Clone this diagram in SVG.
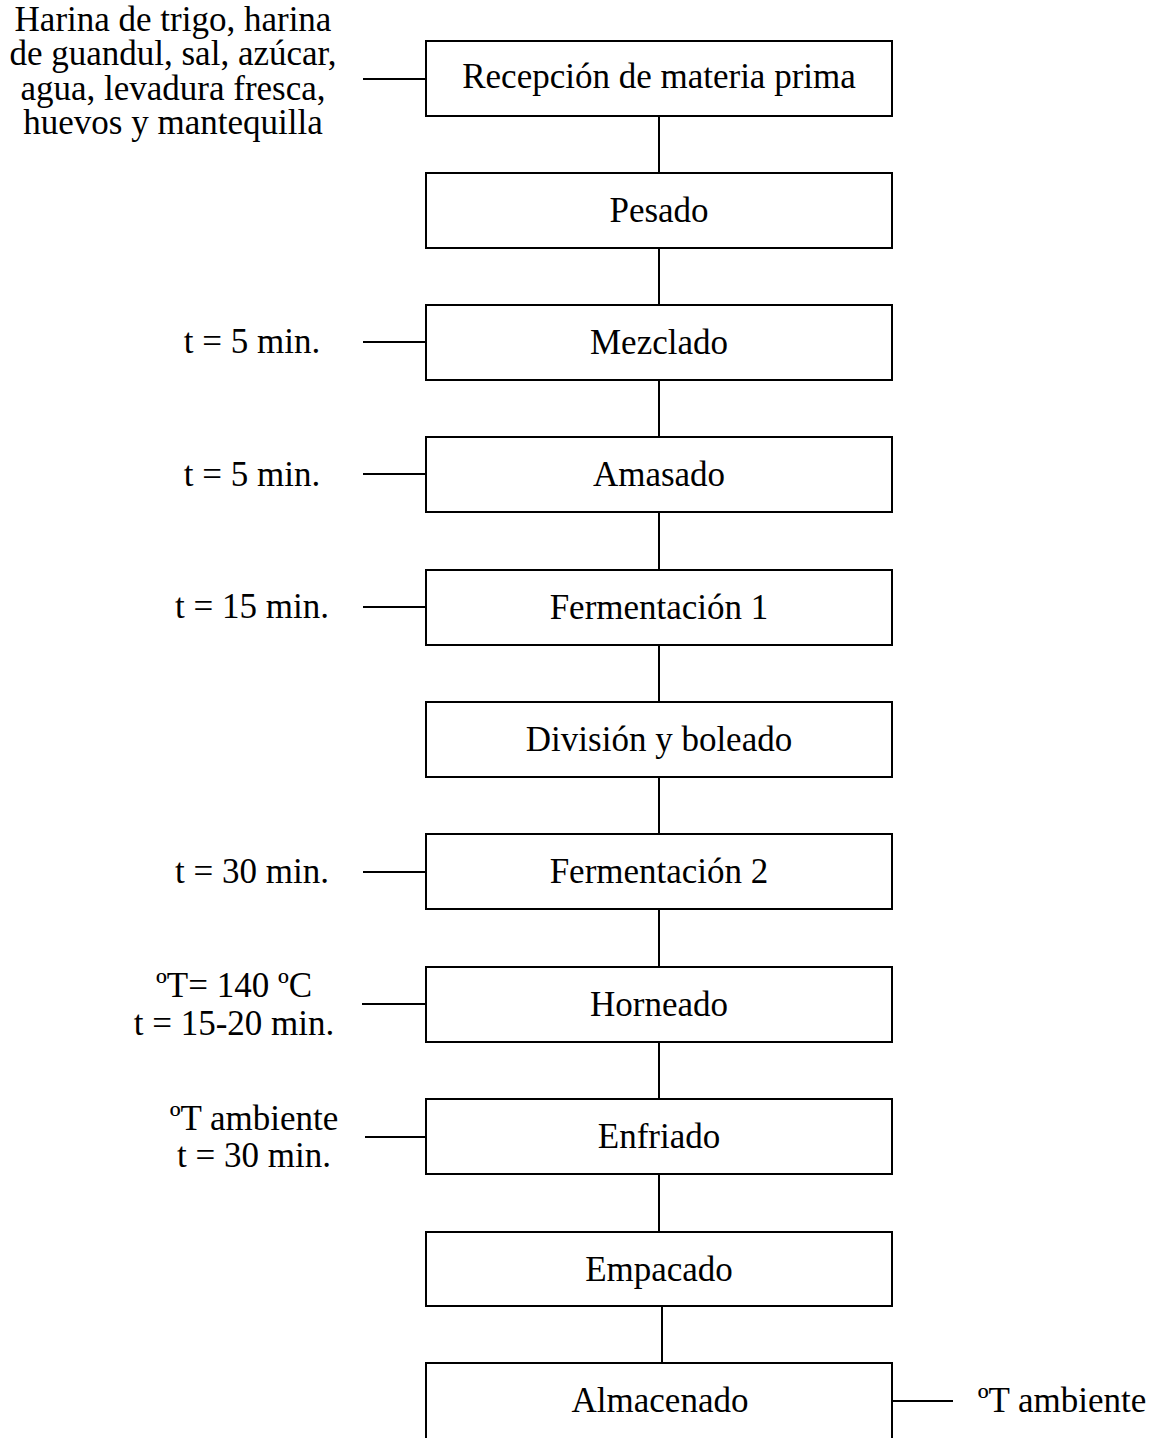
<svg xmlns="http://www.w3.org/2000/svg" width="1160" height="1438" viewBox="0 0 1160 1438">
<style>
.box{fill:#fff;stroke:#000;stroke-width:2}
.ln{stroke:#000;stroke-width:2;fill:none}
text{font-family:"Liberation Serif","Times New Roman",serif;font-size:35px;fill:#000;text-anchor:middle}
</style>
<rect width="1160" height="1438" fill="#fff"/>
<g id="connectors">
<line class="ln" x1="659" y1="116" x2="659" y2="173"/>
<line class="ln" x1="659" y1="248" x2="659" y2="305"/>
<line class="ln" x1="659" y1="380" x2="659" y2="437"/>
<line class="ln" x1="659" y1="512" x2="659" y2="570"/>
<line class="ln" x1="659" y1="645" x2="659" y2="702"/>
<line class="ln" x1="659" y1="777" x2="659" y2="834"/>
<line class="ln" x1="659" y1="909" x2="659" y2="967"/>
<line class="ln" x1="659" y1="1042" x2="659" y2="1099"/>
<line class="ln" x1="659" y1="1174" x2="659" y2="1232"/>
<line class="ln" x1="662" y1="1306" x2="662" y2="1363"/>
<line class="ln" x1="363" y1="79" x2="426" y2="79"/>
<line class="ln" x1="363" y1="342" x2="426" y2="342"/>
<line class="ln" x1="363" y1="474" x2="426" y2="474"/>
<line class="ln" x1="363" y1="607" x2="426" y2="607"/>
<line class="ln" x1="363" y1="872" x2="426" y2="872"/>
<line class="ln" x1="362" y1="1004" x2="426" y2="1004"/>
<line class="ln" x1="365" y1="1137" x2="426" y2="1137"/>
<line class="ln" x1="892" y1="1401" x2="953" y2="1401"/>
</g>
<g id="n1"><rect class="box" x="426" y="41" width="466" height="75"/><text x="659" y="88">Recepción de materia prima</text></g>
<g id="n2"><rect class="box" x="426" y="173" width="466" height="75"/><text x="659" y="222">Pesado</text></g>
<g id="n3"><rect class="box" x="426" y="305" width="466" height="75"/><text x="659" y="354">Mezclado</text></g>
<g id="n4"><rect class="box" x="426" y="437" width="466" height="75"/><text x="659" y="486">Amasado</text></g>
<g id="n5"><rect class="box" x="426" y="570" width="466" height="75"/><text x="659" y="619">Fermentación 1</text></g>
<g id="n6"><rect class="box" x="426" y="702" width="466" height="75"/><text x="659" y="751">División y boleado</text></g>
<g id="n7"><rect class="box" x="426" y="834" width="466" height="75"/><text x="659" y="883">Fermentación 2</text></g>
<g id="n8"><rect class="box" x="426" y="967" width="466" height="75"/><text x="659" y="1016">Horneado</text></g>
<g id="n9"><rect class="box" x="426" y="1099" width="466" height="75"/><text x="659" y="1148">Enfriado</text></g>
<g id="n10"><rect class="box" x="426" y="1232" width="466" height="74"/><text x="659" y="1281">Empacado</text></g>
<g id="n11"><rect class="box" x="426" y="1363" width="466" height="80"/><text x="660" y="1412">Almacenado</text></g>
<g id="labels">
<text x="173" y="31">Harina de trigo, harina</text>
<text x="173" y="65">de guandul, sal, azúcar,</text>
<text x="173" y="100">agua, levadura fresca,</text>
<text x="173" y="134">huevos y mantequilla</text>
<text x="252" y="353">t = 5 min.</text>
<text x="252" y="486">t = 5 min.</text>
<text x="252" y="618">t = 15 min.</text>
<text x="252" y="883">t = 30 min.</text>
<text x="234" y="997">ºT= 140 ºC</text>
<text x="234" y="1035">t = 15-20 min.</text>
<text x="254" y="1130">ºT ambiente</text>
<text x="254" y="1167">t = 30 min.</text>
<text x="1062" y="1412">ºT ambiente</text>
</g>
</svg>
